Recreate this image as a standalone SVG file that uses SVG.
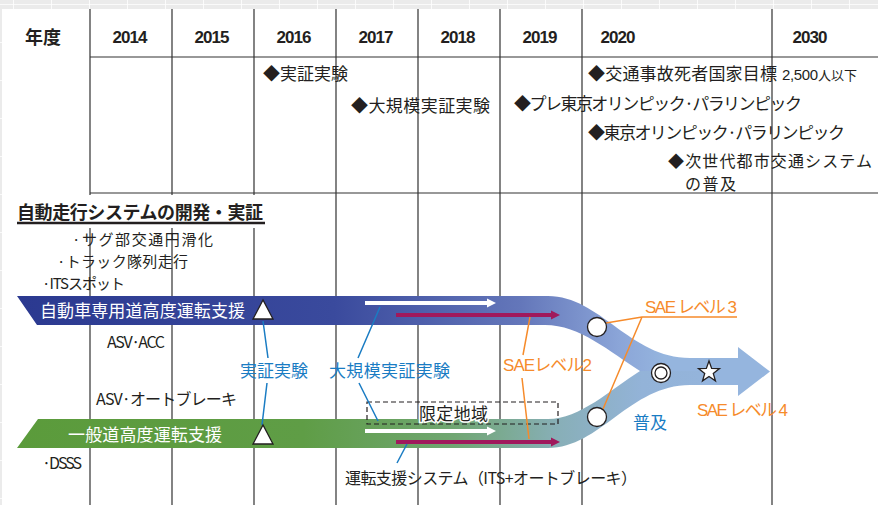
<svg xmlns="http://www.w3.org/2000/svg" width="878" height="505" viewBox="0 0 878 505">
<defs>
<pattern id="bg" x="13" y="4" width="38" height="38" patternUnits="userSpaceOnUse">
<rect width="38" height="38" fill="#ebebeb"/>
<path d="M0,0 V38 M0,0 H38" stroke="#ffffff" stroke-width="1.6"/>
</pattern>
<linearGradient id="gUp" gradientUnits="userSpaceOnUse" x1="17" y1="0" x2="770" y2="0">
<stop offset="0" stop-color="#2b3990"/>
<stop offset="0.42" stop-color="#3a4a9d"/>
<stop offset="0.67" stop-color="#6477ba"/>
<stop offset="0.80" stop-color="#8ba5d8"/>
<stop offset="0.86" stop-color="#95b5de"/>
<stop offset="1" stop-color="#95b5de"/>
</linearGradient>
<linearGradient id="gLow" gradientUnits="userSpaceOnUse" x1="17" y1="0" x2="770" y2="0">
<stop offset="0" stop-color="#5b9b3b"/>
<stop offset="0.38" stop-color="#5f9d46"/>
<stop offset="0.58" stop-color="#70a672"/>
<stop offset="0.72" stop-color="#88afb8"/>
<stop offset="0.83" stop-color="#93b3d8"/>
<stop offset="1" stop-color="#95b5de"/>
</linearGradient>
<marker id="mW" markerUnits="userSpaceOnUse" viewBox="0 0 10 10" markerWidth="9" markerHeight="10" refX="0" refY="5" orient="auto"><path d="M0,0 L10,5 L0,10 Z" fill="#ffffff"/></marker>
<marker id="mR" markerUnits="userSpaceOnUse" viewBox="0 0 10 10" markerWidth="9" markerHeight="10" refX="0" refY="5" orient="auto"><path d="M0,0 L10,5 L0,10 Z" fill="#a0195c"/></marker>
</defs>
<style>
.grid{stroke:#333333;stroke-width:1.2;fill:none}
.t{font-family:"Noto Sans CJK JP","Liberation Sans",sans-serif;fill:#231f20}
.lat{font-family:"Liberation Sans","Noto Sans CJK JP",sans-serif;fill:#231f20}
.yr{font-family:"Liberation Sans",sans-serif;font-weight:bold;font-size:17px;fill:#231f20;text-anchor:middle}
.wt{font-family:"Noto Sans CJK JP",sans-serif;fill:#ffffff;font-size:17px}
.bl{font-family:"Noto Sans CJK JP",sans-serif;fill:#1a7cc3;font-size:17px}
.or{font-family:"Liberation Sans","Noto Sans CJK JP",sans-serif;fill:#f68b2b;font-size:17px}
.bline{stroke:#1a7cc3;stroke-width:1.5;fill:none}
.oline{stroke:#f68b2b;stroke-width:1.5;fill:none}
.wa{stroke:#ffffff;stroke-width:4;fill:none;marker-end:url(#mW)}
.ra{stroke:#a0195c;stroke-width:4;fill:none;marker-end:url(#mR)}
.mk{fill:#ffffff;stroke:#231f20;stroke-width:1.3}
</style>
<rect width="878" height="505" fill="url(#bg)"/>
<rect x="2" y="9" width="876" height="496" fill="#ffffff"/>

<g id="grid">
<path class="grid" d="M90,9 V505 M172,9 V505 M254,9 V505 M336,9 V505 M418,9 V505 M500,9 V505 M582,9 V505 M772,9 V505"/>
<path class="grid" d="M90,57 H878 M90,193 H878" stroke-width="1.5"/>
</g>

<g id="header">
<text class="t" x="25" y="44" font-size="18" font-weight="bold">年度</text>
<text class="yr" x="130" y="43" textLength="35">2014</text>
<text class="yr" x="212" y="43" textLength="35">2015</text>
<text class="yr" x="294" y="43" textLength="35">2016</text>
<text class="yr" x="376" y="43" textLength="35">2017</text>
<text class="yr" x="458" y="43" textLength="35">2018</text>
<text class="yr" x="540" y="43" textLength="35">2019</text>
<text class="yr" x="618" y="43" textLength="35">2020</text>
<text class="yr" x="810" y="43" textLength="35">2030</text>
</g>

<g id="events">
<text class="t" x="263" y="80" font-size="17">◆実証実験</text>
<text class="t" x="351" y="112" font-size="17" textLength="139">◆大規模実証実験</text>
<text class="t" x="588" y="80" font-size="17" textLength="189">◆交通事故死者国家目標</text>
<text class="lat" x="782" y="80" font-size="15" textLength="36">2,500</text>
<text class="t" x="818" y="80" font-size="13" textLength="39">人以下</text>
<text class="t" x="514" y="110" font-size="17" textLength="288">◆プレ東京オリンピック·パラリンピック</text>
<text class="t" x="588" y="139" font-size="17" textLength="257">◆東京オリンピック·パラリンピック</text>
<text class="t" x="668" y="167" font-size="16" textLength="204">◆次世代都市交通システム</text>
<text class="t" x="685" y="190" font-size="16" textLength="51">の普及</text>
</g>

<g id="section-title">
<rect x="10" y="195" width="258" height="33" fill="#ffffff"/>
<text class="t" x="17" y="219" font-size="18" font-weight="bold" textLength="246">自動走行システムの開発・実証</text>
<path d="M17,223 H265" stroke="#231f20" stroke-width="2.4"/>
</g>

<g id="items">
<text class="t" x="72" y="244.5" font-size="15" textLength="141">·サグ部交通円滑化</text>
<text class="t" x="57" y="266.5" font-size="15" textLength="131">·トラック隊列走行</text>
<text class="t" x="42" y="289" font-size="15" textLength="83">·ITSスポット</text>
<text class="t" x="107" y="348" font-size="16" textLength="58">ASV·ACC</text>
<text class="t" x="96" y="405" font-size="16" textLength="141">ASV·オートブレーキ</text>
<text class="t" x="42" y="469" font-size="16" textLength="40">·DSSS</text>
</g>

<g id="band-upper">
<path d="M17,296 L548,296 C600,296 630,358 690,358 L738,358 L738,347 L770,371.5 L738,396 L738,385 L690,385 L640,371 C610,352 580,325 545,325 L37,325 Z" fill="url(#gUp)"/>
<text class="wt" x="40" y="317" textLength="205">自動車専用道高度運転支援</text>
</g>
<g id="band-lower">
<path d="M38,419 L548,419 C580,419 610,390 640,371 L700,371 L700,385 L690,385 C630,385 600,448 548,448 L17,448 Z" fill="url(#gLow)"/>
<text class="wt" x="68" y="441" textLength="154">一般道高度運転支援</text>
</g>

<g id="limited-area">
<rect x="367" y="402" width="191" height="22" fill="none" stroke="#231f20" stroke-width="1.2" stroke-dasharray="5,3"/>
<text class="t" x="419" y="420" font-size="17" textLength="69" stroke="#ffffff" stroke-width="3" paint-order="stroke">限定地域</text>
</g>

<g id="connectors">
<path class="wa" d="M365,303 H487"/>
<path class="ra" d="M396,315 H551"/>
<path class="wa" d="M365,431 H487"/>
<path class="ra" d="M396,442 H551"/>
<path class="bline" d="M263,321 L268,358 M267,383 L262,425"/>
<path class="bline" d="M380,307 L358,358 M359,383 L378,421"/>
<path class="bline" d="M397,463 L407,444"/>
<path class="oline" d="M530,317 L523,355 M522,378 L529,439"/>
<path class="oline" d="M606,323 L642,317 H737 M642,317 L603,409"/>
</g>

<g id="markers">
<polygon class="mk" points="263,300 253,319 273,319"/>
<polygon class="mk" points="263,425 253,444 273,444"/>
<circle class="mk" cx="597" cy="327" r="9.5"/>
<circle class="mk" cx="597" cy="417" r="9.5"/>
<circle class="mk" cx="661" cy="373" r="9.5"/>
<circle class="mk" cx="661" cy="373" r="6"/>
<polygon class="mk" points="709,361 711.65,368.36 719.46,368.6 713.28,373.39 715.47,380.9 709,376.5 702.53,380.9 704.72,373.39 698.54,368.6 706.35,368.36"/>
</g>

<g id="labels">
<text class="bl" x="240" y="377" textLength="68">実証実験</text>
<text class="bl" x="329" y="377" textLength="121">大規模実証実験</text>
<text class="bl" x="633" y="429" textLength="34">普及</text>
<text class="or" x="503" y="371" textLength="89">SAEレベル2</text>
<text class="or" x="645" y="313" textLength="92">SAE レベル 3</text>
<text class="or" x="697" y="416" textLength="91">SAE レベル 4</text>
<text class="t" x="345" y="484" font-size="16" textLength="292">運転支援システム（ITS+オートブレーキ）</text>
</g>
</svg>
